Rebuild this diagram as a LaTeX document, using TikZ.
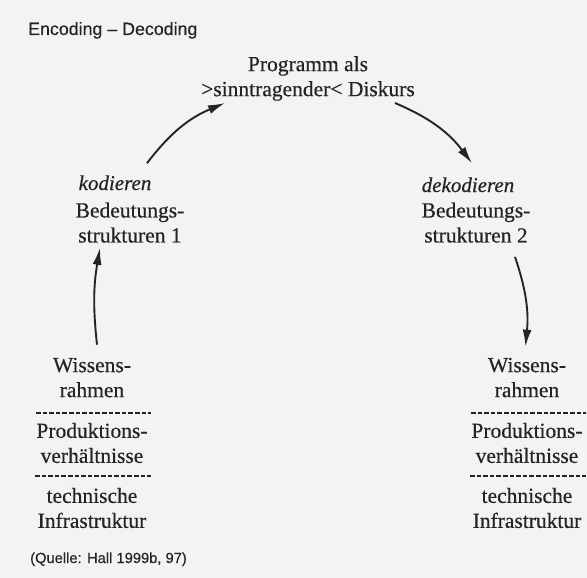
\documentclass[tikz,border=0pt]{standalone}
\usepackage{fontspec}
\setmainfont{Liberation Serif}[FakeBold=0.5]
\setsansfont{Liberation Sans}[FakeBold=0.3]
\usetikzlibrary{arrows.meta}
\definecolor{ink}{HTML}{242424}
\definecolor{paper}{HTML}{F3F3F1}

\begin{document}
\begin{tikzpicture}[x=1pt,y=-1pt,
        txt/.style={align=center,inner sep=2pt,text=ink,font=\fontsize{21.5}{25}\selectfont},
        verb/.style={inner sep=2pt,text=ink,font=\fontsize{21}{25}\selectfont\itshape},
        serif/.style={inner sep=0pt,text=ink,font=\sffamily\fontsize{#1}{20}\selectfont},
        pfeil/.style={draw=ink,line width=1.9pt,-{Latex[length=17pt,width=9pt]}},
        trenn/.style={draw=ink,line width=1.3pt,dash pattern=on 4.6pt off 2pt}]
            \fill [paper] (0,0) rectangle (587,578);
            \useasboundingbox (0,0) rectangle (587,578);
            \path (28,35) node (titel) [serif=17.8,anchor=base west] {Encoding – Decoding};
            \path (308,78.5) node (prog) [txt] {Programm als\\>sinntragender< Diskurs};
            \path (115,190) node (kod) [verb,anchor=base] {kodieren};
            \path (468,192) node (dekod) [verb,anchor=base] {dekodieren};
            \path (130,222.6) node (bedL) [txt] {Bedeutungs-\\strukturen 1};
            \path (476,222.6) node (bedR) [txt] {Bedeutungs-\\strukturen 2};
            \foreach \s/\x in {L/92,R/527}
                {\path (\x,377.6) node (wiss\s) [txt] {Wissens-\\rahmen};
                \path (\x,443) node (prod\s) [txt] {Produktions-\\verhältnisse};
                \path (\x,508) node (tech\s) [txt] {technische\\Infrastruktur};
                \draw [trenn] (\x-56,413) -- (\x+59,413);
                \draw [trenn] (\x-57,476) -- (\x+59,476);}
            \path (30,563) node (quelle) [serif=14.7,anchor=base west] {(Quelle: Hall 1999b, 97)};

            \draw [pfeil] ([xshift=32pt,yshift=10pt]kod.north) to [bend left=15] ([xshift=26pt]prog.south west);
            \draw [pfeil] ([xshift=-22pt]prog.south east) to [bend left=15] ([xshift=4pt,yshift=12pt]dekod.north);
            \draw [pfeil] ([xshift=5pt,yshift=11pt]wissL.north) to [bend left=8] ([xshift=-30pt,yshift=-3pt]bedL.south);
            \draw [pfeil] ([xshift=39pt,yshift=-12pt]bedR.south) to [bend left=12] ([xshift=-1.5pt,yshift=9pt]wissR.north);
        \end{tikzpicture}
\end{document}
